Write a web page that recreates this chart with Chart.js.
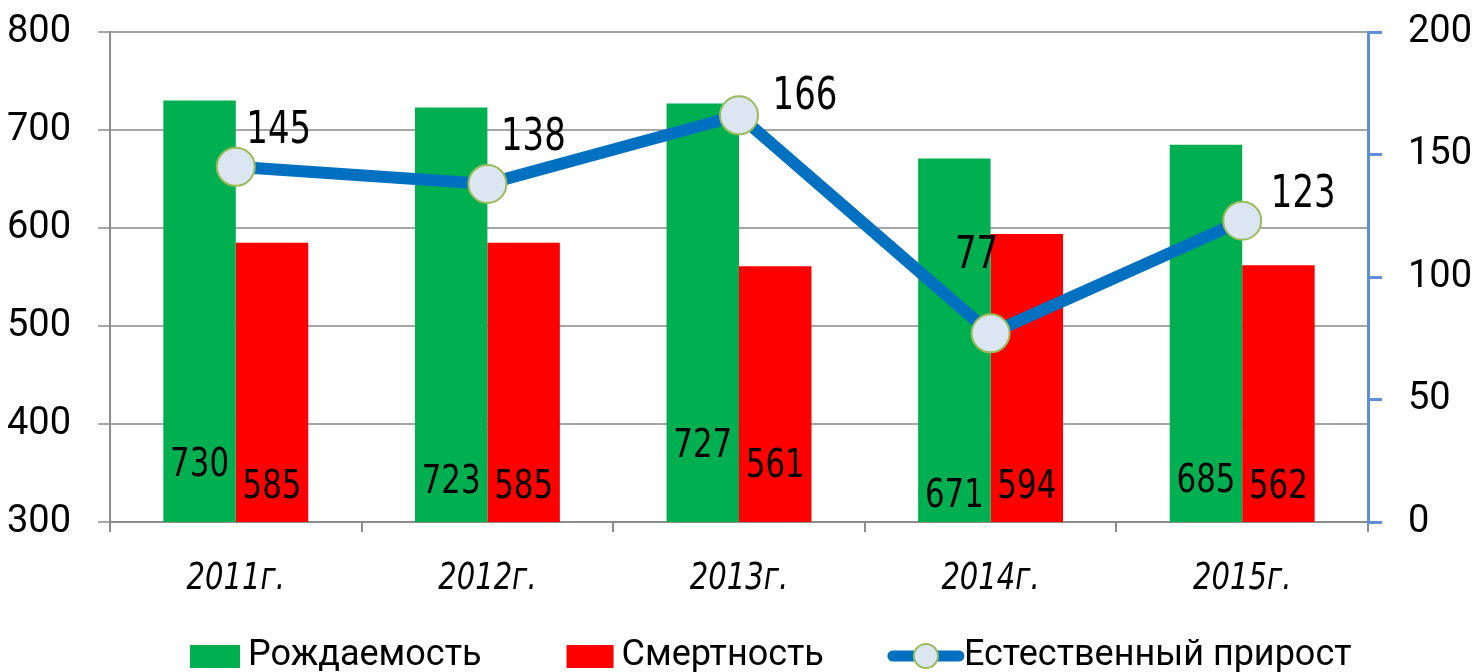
<!DOCTYPE html>
<html>
<head>
<meta charset="utf-8">
<script src="https://cdn.jsdelivr.net/npm/chart.js@4.4.0/dist/chart.umd.min.js"></script>
<style>
  body { margin: 0; background: #fff; }
</style>
</head>
<body>
<canvas id="grafico" width="1475" height="672"></canvas>
<script>
// datos
const anios = ['2011г.', '2012г.', '2013г.', '2014г.', '2015г.'];
const rozhdaemost = [730, 723, 727, 671, 685];
const smertnost = [585, 585, 561, 594, 562];
const prirost = [145, 138, 166, 77, 123];
const ticksIzq = [300, 400, 500, 600, 700, 800];
const ticksDer = [0, 50, 100, 150, 200];
const nombres = ['Рождаемость', 'Смертность', 'Естественный прирост'];

// posiciones de etiquetas (como en el original)
const offVerde = [56, 39, 75, 25, 40];
const offRojo = [34, 34, 55, 34, 34];
const offLinea = [[43, -35], [46, -46], [66, -18], [-14, -77], [61, -25]];

const VERDE = '#00b050';
const ROJO = '#ff0000';
const AZUL = '#0070c0';
const EJE_AZUL = '#5b8fd6';
const GRIS = '#8c8c8c';
const COND = '"DejaVu Sans Condensed", "DejaVu Sans", sans-serif';

// texto angosto (la fuente original es mas estrecha)
function textoAngosto(ctx, t, x, y, sx) {
  ctx.save();
  ctx.translate(x, y);
  ctx.scale(sx, 1);
  ctx.fillText(t, 0, 0);
  ctx.restore();
}

// etiquetas de datos + leyenda
const etiquetas = {
  id: 'etiquetas',
  afterDatasetsDraw(chart) {
    const ctx = chart.ctx;
    const base = chart.chartArea.bottom;
    ctx.save();
    ctx.fillStyle = '#000';
    ctx.textAlign = 'center';
    ctx.textBaseline = 'middle';
    ctx.font = '39px ' + COND;
    chart.getDatasetMeta(0).data.forEach(function (b, i) {
      textoAngosto(ctx, String(rozhdaemost[i]), b.x, base - offVerde[i], 0.88);
    });
    chart.getDatasetMeta(1).data.forEach(function (b, i) {
      textoAngosto(ctx, String(smertnost[i]), b.x, base - offRojo[i], 0.88);
    });
    ctx.font = '45px ' + COND;
    chart.getDatasetMeta(2).data.forEach(function (p, i) {
      textoAngosto(ctx, String(prirost[i]), p.x + offLinea[i][0], p.y + offLinea[i][1], 0.84);
    });
    // categorias eje x
    ctx.font = 'italic 38px ' + COND;
    const sx = chart.scales.x;
    anios.forEach(function (a, i) {
      textoAngosto(ctx, a, sx.getPixelForTick(i), 579, 0.85);
    });
    ctx.restore();
  },
  afterDraw(chart) {
    const ctx = chart.ctx;
    ctx.save();
    ctx.font = '36px Roboto, sans-serif';
    ctx.textBaseline = 'middle';
    ctx.fillStyle = '#000';
    let x = 190;
    const y = 656;
    // Рождаемость
    ctx.fillStyle = VERDE;
    ctx.fillRect(x, y - 11, 50, 23);
    ctx.fillStyle = '#000';
    ctx.fillText(nombres[0], x + 58, y);
    x += 58 + ctx.measureText(nombres[0]).width + 85;
    // Смертность
    ctx.fillStyle = ROJO;
    ctx.fillRect(x, y - 11, 47, 23);
    ctx.fillStyle = '#000';
    ctx.fillText(nombres[1], x + 55, y);
    x += 55 + ctx.measureText(nombres[1]).width + 65;
    // Естественный прирост
    ctx.strokeStyle = AZUL;
    ctx.lineWidth = 11;
    ctx.lineCap = 'round';
    ctx.beginPath();
    ctx.moveTo(x + 4, y);
    ctx.lineTo(x + 70, y);
    ctx.stroke();
    ctx.beginPath();
    ctx.arc(x + 37, y, 12, 0, Math.PI * 2);
    ctx.fillStyle = '#dce6f2';
    ctx.fill();
    ctx.lineWidth = 2;
    ctx.strokeStyle = '#9bbb59';
    ctx.stroke();
    ctx.fillStyle = '#000';
    ctx.fillText(nombres[2], x + 75, y);
    ctx.restore();
  }
};

const ctx1 = document.getElementById('grafico').getContext('2d');
const myChart = new Chart(ctx1, {
  type: 'bar',
  data: {
    labels: anios,
    datasets: [{
      label: nombres[0],
      data: rozhdaemost,
      backgroundColor: VERDE,
      yAxisID: 'y',
      order: 1,
      barPercentage: 1,
      categoryPercentage: 0.576
    }, {
      label: nombres[1],
      data: smertnost,
      backgroundColor: ROJO,
      yAxisID: 'y',
      order: 1,
      barPercentage: 1,
      categoryPercentage: 0.576
    }, {
      type: 'line',
      label: nombres[2],
      data: prirost,
      yAxisID: 'y1',
      order: 0,
      borderColor: AZUL,
      borderWidth: 12,
      tension: 0,
      clip: false,
      pointRadius: 19,
      pointBackgroundColor: '#dce6f2',
      pointBorderColor: '#9bbb59',
      pointBorderWidth: 2
    }]
  },
  options: {
    responsive: false,
    animation: false,
    layout: { padding: { top: 32, left: 0, right: 0, bottom: 0 } },
    plugins: {
      legend: { display: false },
      tooltip: { enabled: false }
    },
    scales: {
      x: {
        afterFit: function (s) { s.height = 150; s.paddingLeft = 0; s.paddingRight = 0; },
        grid: { drawOnChartArea: false, color: GRIS, lineWidth: 2, tickLength: 10, offset: true },
        border: { color: GRIS, width: 2 },
        ticks: { display: false }
      },
      y: {
        position: 'left',
        min: 300,
        max: 800,
        afterFit: function (s) { s.width = 110; s.paddingTop = 0; s.paddingBottom = 0; },
        afterBuildTicks: function (s) { s.ticks = ticksIzq.map(v => ({ value: v })); },
        grid: { color: '#a6a6a6', lineWidth: 2, tickLength: 12 },
        border: { color: GRIS, width: 2 },
        ticks: {
          color: '#000',
          padding: 27,
          font: { family: 'Roboto, sans-serif', size: 38 }
        }
      },
      y1: {
        position: 'right',
        min: 0,
        max: 200,
        afterFit: function (s) { s.width = 107; s.paddingTop = 0; s.paddingBottom = 0; },
        afterBuildTicks: function (s) { s.ticks = ticksDer.map(v => ({ value: v })); },
        grid: { drawOnChartArea: false, color: EJE_AZUL, lineWidth: 3, tickLength: 14 },
        border: { color: EJE_AZUL, width: 3 },
        ticks: {
          color: '#000',
          padding: 26,
          font: { family: 'Roboto, sans-serif', size: 38 }
        }
      }
    }
  },
  plugins: [etiquetas]
});
</script>
</body>
</html>
